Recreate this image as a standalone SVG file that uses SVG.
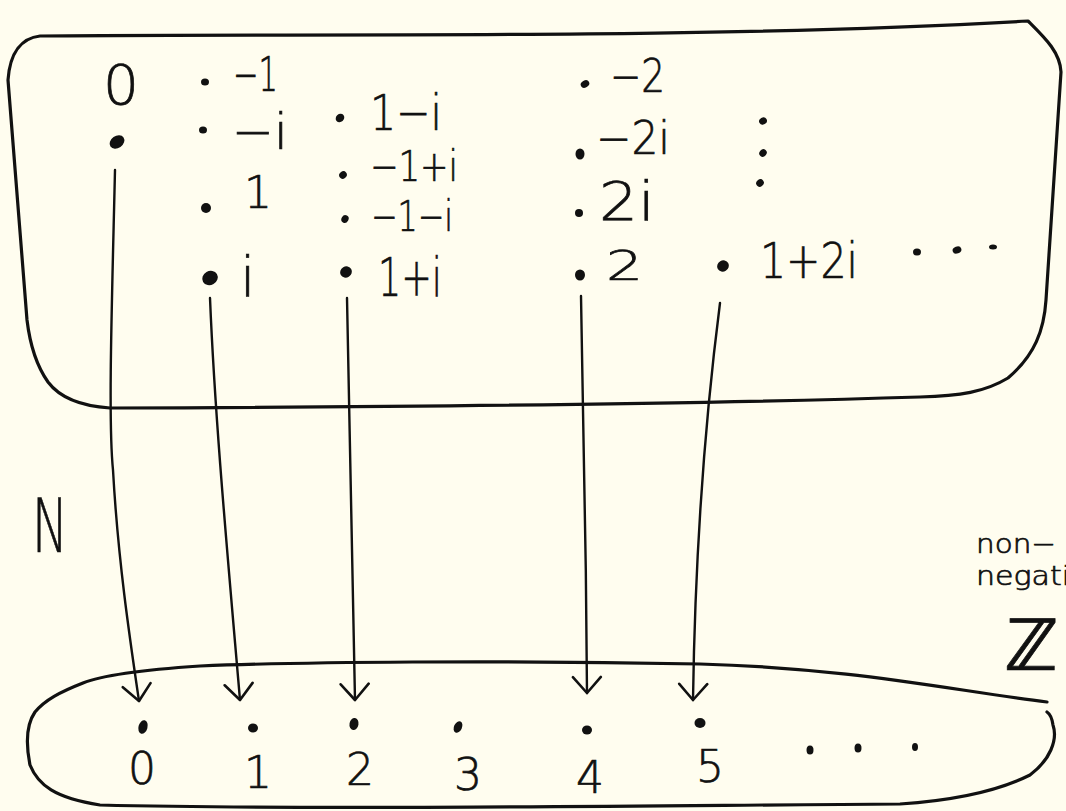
<svg xmlns="http://www.w3.org/2000/svg" width="1066" height="811" viewBox="0 0 1066 811">
  <defs>
    <style>
      .ink { fill: none; stroke: #111; stroke-linecap: round; stroke-linejoin: round; }
      .blob { stroke-width: 3.2; }
      .shaft { stroke-width: 2.4; }
      .dot { fill: #111; }
      .lbl { font-family: "DejaVu Sans", "Liberation Sans", sans-serif; font-weight: 200; fill: #111; stroke: #111; stroke-width: 0.7; }
      .num { font-family: "DejaVu Sans", "Liberation Sans", sans-serif; font-weight: 200; fill: #111; stroke: #111; stroke-width: 0.7; font-size: 44px; text-anchor: middle; }
    </style>
    <marker id="vhead" viewBox="-18 -16 20 32" markerWidth="20" markerHeight="32" refX="0" refY="0" orient="auto" markerUnits="userSpaceOnUse">
      <path d="M -16 -14 L 0 0 L -16 14" fill="none" stroke="#111" stroke-width="2.6" stroke-linecap="round" stroke-linejoin="round"/>
    </marker>
  </defs>

  <rect width="1066" height="811" fill="#fffdef"/>

  <!-- domain: the complex integers -->
  <g id="gaussian-integers">
    <path class="ink blob" d="M 8 80 C 10 52 22 38 40 36 C 300 33 700 40 1028 21 C 1045 38 1060 52 1061 72 L 1046 300 C 1044 330 1035 355 1008 378 C 985 392 960 396 920 397 C 700 404 400 407 110 408 C 80 406 60 398 48 382 C 36 365 30 345 27 320 Z"/>

    <text class="lbl" x="103" y="104" font-size="56" textLength="36" lengthAdjust="spacingAndGlyphs">0</text>
    <ellipse class="dot" cx="117" cy="142" rx="8" ry="6" transform="rotate(-35 117 142)"/>

    <ellipse class="dot" cx="205" cy="82" rx="4" ry="3.5"/>
    <text class="lbl" x="233" y="91" font-size="48" textLength="45" lengthAdjust="spacingAndGlyphs">−1</text>
    <ellipse class="dot" cx="203" cy="130" rx="4" ry="3.5"/>
    <text class="lbl" x="232" y="149" font-size="50" textLength="56" lengthAdjust="spacingAndGlyphs">−i</text>
    <ellipse class="dot" cx="206" cy="208" rx="5" ry="5"/>
    <text class="lbl" x="244" y="208" font-size="44">1</text>
    <ellipse class="dot" cx="210" cy="278" rx="8" ry="7" transform="rotate(-30 210 278)"/>
    <text class="lbl" x="240" y="296" font-size="56">i</text>

    <ellipse class="dot" cx="340" cy="118" rx="4.5" ry="4" transform="rotate(-40 340 118)"/>
    <text class="lbl" x="370" y="130" font-size="50" textLength="72" lengthAdjust="spacingAndGlyphs">1−i</text>
    <ellipse class="dot" cx="343" cy="175" rx="4" ry="3.5" transform="rotate(-40 343 175)"/>
    <text class="lbl" x="370" y="181" font-size="42" textLength="88" lengthAdjust="spacingAndGlyphs">−1+i</text>
    <ellipse class="dot" cx="345" cy="219" rx="4" ry="3.5" transform="rotate(-60 345 219)"/>
    <text class="lbl" x="371" y="231" font-size="42" textLength="82" lengthAdjust="spacingAndGlyphs">−1−i</text>
    <ellipse class="dot" cx="346" cy="272" rx="6" ry="5.5" transform="rotate(-30 346 272)"/>
    <text class="lbl" x="378" y="296" font-size="54" textLength="64" lengthAdjust="spacingAndGlyphs">1+i</text>

    <ellipse class="dot" cx="585" cy="84" rx="4.5" ry="3.5" transform="rotate(-30 585 84)"/>
    <text class="lbl" x="610" y="92" font-size="46" textLength="55" lengthAdjust="spacingAndGlyphs">−2</text>
    <ellipse class="dot" cx="580" cy="154" rx="4.5" ry="5.5"/>
    <text class="lbl" x="596" y="154" font-size="46" textLength="74" lengthAdjust="spacingAndGlyphs">−2i</text>
    <ellipse class="dot" cx="579" cy="213" rx="4" ry="4"/>
    <text class="lbl" x="599" y="220" font-size="54" textLength="56" lengthAdjust="spacingAndGlyphs">2i</text>
    <ellipse class="dot" cx="580" cy="275" rx="5" ry="5.5"/>
    <text class="lbl" x="606" y="280" font-size="40" textLength="37" lengthAdjust="spacingAndGlyphs">2</text>

    <ellipse class="dot" cx="763" cy="121" rx="4" ry="3.5" transform="rotate(-30 763 121)"/>
    <ellipse class="dot" cx="763" cy="153" rx="4" ry="3.5" transform="rotate(-50 763 153)"/>
    <ellipse class="dot" cx="760" cy="183" rx="4" ry="3.5" transform="rotate(-40 760 183)"/>

    <ellipse class="dot" cx="723" cy="266" rx="6" ry="5.5" transform="rotate(-30 723 266)"/>
    <text class="lbl" x="760" y="278" font-size="50" textLength="98" lengthAdjust="spacingAndGlyphs">1+2i</text>

    <ellipse class="dot" cx="917" cy="252" rx="4" ry="3.5"/>
    <ellipse class="dot" cx="957" cy="250" rx="4.5" ry="3.5" transform="rotate(-20 957 250)"/>
    <ellipse class="dot" cx="993" cy="247" rx="4" ry="2.5"/>
  </g>

  <!-- codomain: the non-negative integers -->
  <g id="naturals">
    <path class="ink blob" d="M 1047 702 C 950 690 850 668 700 664 C 500 660 300 662 200 666 C 140 670 100 676 83 683 C 60 692 45 700 35 712 C 26 725 26 745 30 765 C 38 785 55 798 100 805 C 300 810 600 806 900 804 C 960 800 1000 790 1030 775 C 1050 760 1058 740 1053 725 C 1052 718 1050 714 1047 712"/>

    <ellipse class="dot" cx="143" cy="727" rx="4.5" ry="7" transform="rotate(15 143 727)"/>
    <ellipse class="dot" cx="253" cy="728" rx="5" ry="4.5"/>
    <ellipse class="dot" cx="354" cy="724" rx="4.5" ry="6" transform="rotate(10 354 724)"/>
    <ellipse class="dot" cx="458" cy="727" rx="4" ry="6" transform="rotate(25 458 727)"/>
    <ellipse class="dot" cx="587" cy="730" rx="5" ry="4.5"/>
    <ellipse class="dot" cx="700" cy="723" rx="5.5" ry="5"/>

    <text class="num" x="142" y="784">0</text>
    <text class="num" x="258" y="788">1</text>
    <text class="num" x="360" y="785">2</text>
    <text class="num" x="468" y="790">3</text>
    <text class="num" x="590" y="793">4</text>
    <text class="num" x="710" y="782">5</text>

    <ellipse class="dot" cx="810" cy="750" rx="3.5" ry="4.5"/>
    <ellipse class="dot" cx="858" cy="748" rx="3.5" ry="4.5"/>
    <ellipse class="dot" cx="915" cy="747" rx="3" ry="4"/>
  </g>

  <g id="label-n">
    <text class="lbl" x="32" y="552" font-size="74" textLength="36" lengthAdjust="spacingAndGlyphs">N</text>
  </g>

  <g id="label-nonneg-z">
    <text class="lbl" x="976" y="553" font-size="26" textLength="80" lengthAdjust="spacingAndGlyphs">non−</text>
    <text class="lbl" x="976" y="585" font-size="26" textLength="94" lengthAdjust="spacingAndGlyphs">negati</text>
    <text class="lbl" x="1004" y="670" font-size="72" textLength="54" lengthAdjust="spacingAndGlyphs">ℤ</text>
  </g>

  <!-- mapping arrows -->
  <g id="connectors">
    <path class="ink shaft" marker-end="url(#vhead)" d="M 115 170 C 112 300 108 420 113 470 C 118 560 130 640 139 701"/>
    <path class="ink shaft" marker-end="url(#vhead)" d="M 210 298 C 215 420 228 560 240 700"/>
    <path class="ink shaft" marker-end="url(#vhead)" d="M 347 298 C 350 420 352 560 355 700"/>
    <path class="ink shaft" marker-end="url(#vhead)" d="M 581 296 C 584 420 586 560 587 693"/>
    <path class="ink shaft" marker-end="url(#vhead)" d="M 720 303 C 705 420 695 560 693 700"/>
  </g>
</svg>
